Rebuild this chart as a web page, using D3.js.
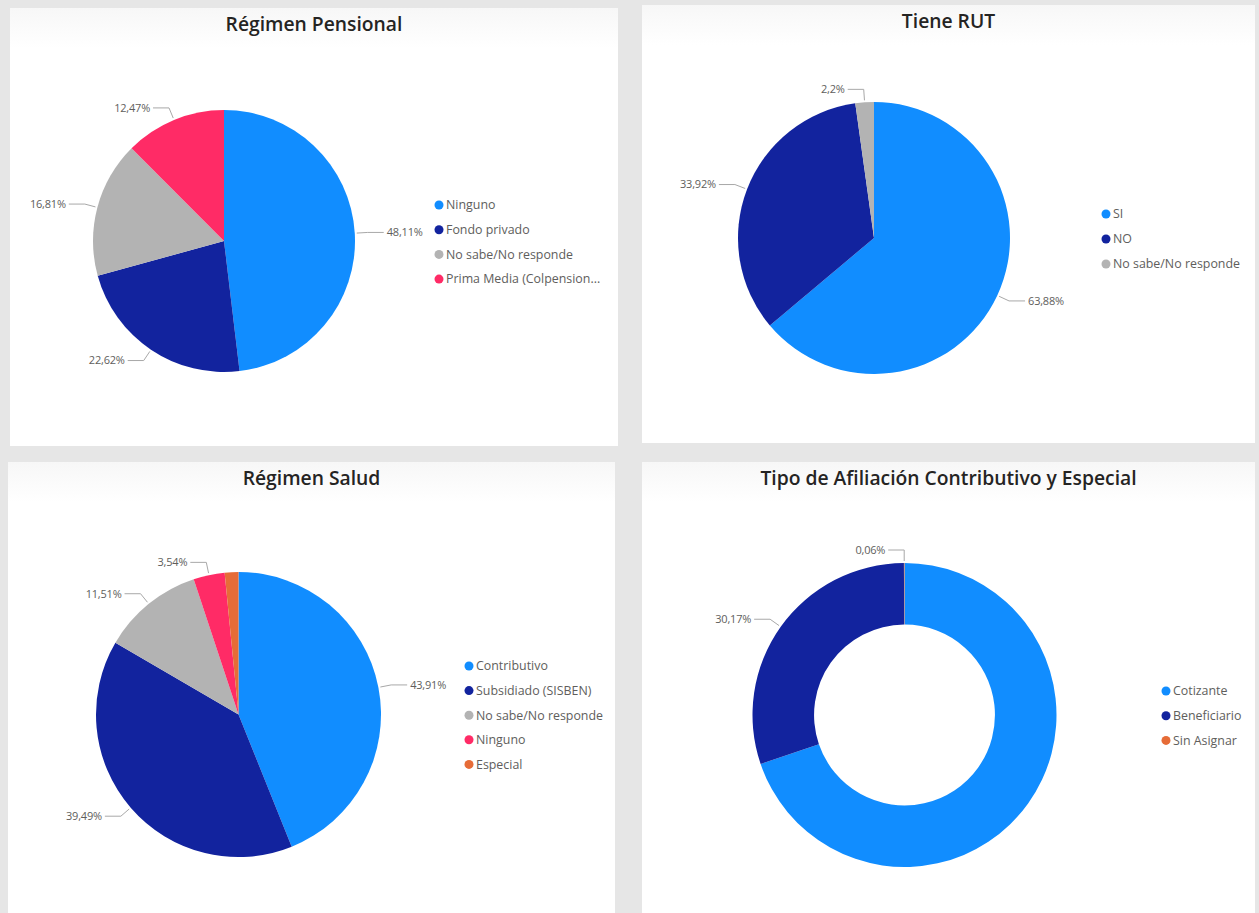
<!DOCTYPE html>
<html><head><meta charset="utf-8">
<script src="https://cdn.jsdelivr.net/npm/d3@7"></script>
<style>
html,body{margin:0;padding:0;background:#e6e6e6;}
svg{display:block;}
text{font-family:"Open Sans","Noto Sans",sans-serif;}
</style></head>
<body>
<svg id="chart" width="1259" height="913"></svg>
<script>
// ---- Data ----
const pensionCats = ["Ninguno","Fondo privado","No sabe/No responde","Prima Media (Colpensiones)"];
const pensionVals = [48.11, 22.62, 16.81, 12.47];
const pensionShow = [true, true, true, true];

const rutCats = ["SI","NO","No sabe/No responde"];
const rutVals = [63.88, 33.92, 2.2];
const rutShow = [true, true, true];

const saludCats = ["Contributivo","Subsidiado (SISBEN)","No sabe/No responde","Ninguno","Especial"];
const saludVals = [43.91, 39.49, 11.51, 3.54, 1.55];
const saludShow = [true, true, true, true, false];

const afilCats = ["Cotizante","Beneficiario","Sin Asignar"];
const afilVals = [69.77, 30.17, 0.06];
const afilShow = [false, true, true];

const C = {blue:"#118DFF", navy:"#12239E", gray:"#B3B3B3", pink:"#FF2B66", orange:"#E66C37"};

const svg = d3.select("#chart");
const defs = svg.append("defs");
const grad = defs.append("linearGradient").attr("id","tg").attr("x1",0).attr("y1",0).attr("x2",0).attr("y2",1);
grad.append("stop").attr("offset","0%").attr("stop-color","#f7f7f7");
grad.append("stop").attr("offset","100%").attr("stop-color","#ffffff");

function truncate(textSel, maxW){
  textSel.each(function(){
    const t = d3.select(this); let s = t.text();
    if (this.getComputedTextLength() <= maxW) return;
    while (s.length > 1) { s = s.slice(0,-1); t.text(s + "..."); if (this.getComputedTextLength() <= maxW) break; }
  });
}

function panel(o){
  const g = svg.append("g");
  g.append("rect").attr("x",o.px).attr("y",o.py).attr("width",o.pw).attr("height",o.ph).attr("fill","#fff");
  g.append("rect").attr("x",o.px).attr("y",o.py).attr("width",o.pw).attr("height",40).attr("fill","url(#tg)");
  g.append("text").attr("x",o.px+o.pw/2).attr("y",o.py+23).attr("text-anchor","middle")
    .attr("font-size",19.3).attr("font-weight",600).attr("fill","#252423").text(o.title);

  const color = d3.scaleOrdinal().domain(o.cats).range(o.colors);
  const pie = d3.pie().sort(null).value(d=>d.v);
  const data = pie(o.cats.map((c,i)=>({c, v:o.vals[i], show:o.show[i]})));
  const arc = d3.arc().innerRadius(o.r*o.inner).outerRadius(o.r);
  const cg = g.append("g").attr("transform",`translate(${o.cx},${o.cy})`);
  cg.selectAll("path").data(data).join("path").attr("d",arc).attr("fill",d=>color(d.data.c));

  const fmt = v => String(v).replace(".",",") + "%";
  data.filter(d=>d.data.show).forEach(d=>{
    const a = (d.startAngle+d.endAngle)/2;
    const dx = Math.sin(a), dy = -Math.cos(a);
    const p1 = [dx*(o.r+2), dy*(o.r+2)];
    const p2 = [dx*(o.r+13), dy*(o.r+13)];
    const side = dx >= 0 ? 1 : -1;
    const p3 = [p2[0] + side*16, p2[1]];
    cg.append("path").attr("d", d3.line()([p1,p2,p3])).attr("fill","none").attr("stroke","#a8a8a8").attr("stroke-width",1);
    cg.append("text").attr("x",p3[0]+side*3).attr("y",p3[1]).attr("dy","0.35em")
      .attr("text-anchor", side>0 ? "start" : "end").attr("font-size",11).attr("fill","#605E5C").attr("letter-spacing",-0.2)
      .text(fmt(d.data.v));
  });

  const lg = g.append("g");
  const rows = lg.selectAll("g").data(o.cats).join("g")
    .attr("transform",(d,i)=>`translate(${o.lx},${o.ly + i*o.lstep})`);
  rows.append("circle").attr("r",4.5).attr("fill",d=>color(d));
  rows.append("text").attr("x",7).attr("dy","0.35em").attr("font-size",12.4).attr("fill","#605E5C").text(d=>d)
    .call(truncate, o.lmax);
}

panel({px:10,py:8,pw:608,ph:438,title:"Régimen Pensional",cats:pensionCats,vals:pensionVals,show:pensionShow,
  colors:[C.blue,C.navy,C.gray,C.pink],cx:224,cy:241,r:131,inner:0,lx:439,ly:205,lstep:24.7,lmax:158});
panel({px:642,py:5,pw:613,ph:438,title:"Tiene RUT",cats:rutCats,vals:rutVals,show:rutShow,
  colors:[C.blue,C.navy,C.gray],cx:874,cy:238,r:136,inner:0,lx:1106,ly:214,lstep:25,lmax:200});
panel({px:8,py:462,pw:607,ph:451,title:"Régimen Salud",cats:saludCats,vals:saludVals,show:saludShow,
  colors:[C.blue,C.navy,C.gray,C.pink,C.orange],cx:238.5,cy:714.5,r:142.5,inner:0,lx:469,ly:666,lstep:24.6,lmax:200});
panel({px:642,py:462,pw:613,ph:451,title:"Tipo de Afiliación Contributivo y Especial",cats:afilCats,vals:afilVals,show:afilShow,
  colors:[C.blue,C.navy,C.orange],cx:904.5,cy:715,r:152,inner:0.595,lx:1166,ly:691,lstep:24.7,lmax:200});
</script>
</body></html>
